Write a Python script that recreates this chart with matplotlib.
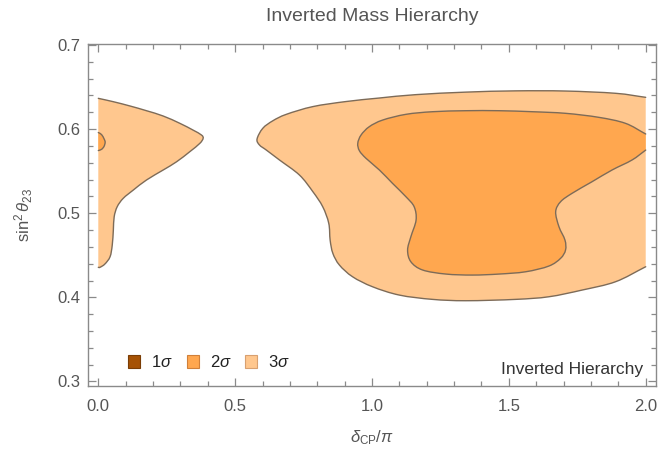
import matplotlib
matplotlib.use("Agg")
import matplotlib.pyplot as plt
from matplotlib.patches import Patch, PathPatch
from matplotlib.path import Path
import numpy as np

plt.rcParams["font.family"] = ["Liberation Sans", "DejaVu Sans"]
plt.rcParams["mathtext.fontset"] = "custom"
plt.rcParams["mathtext.rm"] = "Liberation Sans"
plt.rcParams["mathtext.it"] = "Liberation Sans:italic"

# ── contour outlines (delta_CP/pi, sin^2 theta_23) ───────────────────────────
# each outline starts just after its straight piece on the plot edge
left_3s_x = [0.0, 0.055, 0.116, 0.176, 0.237, 0.298, 0.346, 0.377, 0.383,
             0.371, 0.334, 0.286, 0.237, 0.176, 0.128, 0.091, 0.069, 0.058,
             0.055, 0.051, 0.043, 0.024, 0.006, 0.0]
left_3s_y = [0.6366, 0.6326, 0.6275, 0.6219, 0.6156, 0.6069, 0.5989, 0.5930,
             0.5891, 0.5831, 0.5731, 0.5612, 0.5514, 0.5395, 0.5276, 0.5177,
             0.5077, 0.4958, 0.4800, 0.4622, 0.4483, 0.4396, 0.4357, 0.4357]

left_2s_x = [0.0, 0.012, 0.021, 0.025, 0.021, 0.012, 0.0]
left_2s_y = [0.5960, 0.5935, 0.5885, 0.5845, 0.5795, 0.5760, 0.5745]

right_3s_x = [2.0, 1.890, 1.768, 1.646, 1.525, 1.343, 1.221, 1.100, 1.002,
              0.929, 0.881, 0.857, 0.847, 0.842, 0.820, 0.784, 0.735, 0.662,
              0.614, 0.589, 0.580, 0.601, 0.638, 0.687, 0.784, 0.905, 1.027,
              1.160, 1.343, 1.525, 1.707, 1.890, 2.0]
right_3s_y = [0.4364, 0.4186, 0.4087, 0.4007, 0.3976, 0.3960, 0.3976, 0.4027,
              0.4126, 0.4245, 0.4384, 0.4523, 0.4681, 0.4880, 0.5077, 0.5256,
              0.5454, 0.5633, 0.5751, 0.5811, 0.5882, 0.6010, 0.6100, 0.6176,
              0.6268, 0.6328, 0.6370, 0.6410, 0.6440, 0.6455, 0.6453, 0.6426,
              0.6378]

right_2s_x = [2.0, 1.950, 1.877, 1.804, 1.731, 1.689, 1.671, 1.683, 1.705,
              1.707, 1.689, 1.646, 1.561, 1.464, 1.367, 1.270, 1.185, 1.142,
              1.130, 1.142, 1.161, 1.154, 1.124, 1.075, 1.027, 0.978, 0.954,
              0.948, 0.960, 0.990, 1.039, 1.124, 1.221, 1.343, 1.464, 1.586,
              1.707, 1.829, 1.926, 2.0]
right_2s_y = [0.5751, 0.5633, 0.5514, 0.5375, 0.5237, 0.5137, 0.5018, 0.4840,
              0.4681, 0.4562, 0.4464, 0.4372, 0.4304, 0.4277, 0.4265, 0.4277,
              0.4325, 0.4423, 0.4562, 0.4721, 0.4919, 0.5077, 0.5196, 0.5355,
              0.5514, 0.5653, 0.5743, 0.5831, 0.5930, 0.6029, 0.6108, 0.6176,
              0.6207, 0.6219, 0.6219, 0.6207, 0.6188, 0.6140, 0.6069, 0.5942]

level_labels = ["$1\\sigma$", "$2\\sigma$", "$3\\sigma$"]
level_colors = ["#a65204", "#ffa74f", "#ffc78e"]
level_edges = ["#7a3d05", "#d0803a", "#d8a070"]

x_major = [0.0, 0.5, 1.0, 1.5, 2.0]
y_major = [0.3, 0.4, 0.5, 0.6, 0.7]


def smooth_curve(xs, ys):
    """Bezier path passing through the outline points (Catmull-Rom handles)."""
    p = np.column_stack([xs, ys])
    n = len(p)
    t = np.zeros_like(p)
    t[1:-1] = (p[2:] - p[:-2]) / 2
    t[0] = p[1] - p[0]
    t[-1] = p[-1] - p[-2]
    verts = [p[0]]
    codes = [Path.MOVETO]
    for i in range(n - 1):
        verts += [p[i] + t[i] / 3, p[i + 1] - t[i + 1] / 3, p[i + 1]]
        codes += [Path.CURVE4] * 3
    return verts, codes


# ── figure ────────────────────────────────────────────────────────────────────
fig = plt.figure(figsize=(6.6, 4.5), dpi=100)
ax = fig.add_axes([0.1338, 0.1422, 0.8597, 0.760])

edge = "#7d6b58"
shapes = [(left_3s_x, left_3s_y, level_colors[2]),
          (right_3s_x, right_3s_y, level_colors[2]),
          (right_2s_x, right_2s_y, level_colors[1]),
          (left_2s_x, left_2s_y, level_colors[1])]
for xs, ys, c in shapes:
    verts, codes = smooth_curve(xs, ys)
    # fill: close along the straight plot-range edge
    fill_path = Path(verts + [verts[0], verts[0]],
                     codes + [Path.LINETO, Path.CLOSEPOLY])
    ax.add_patch(PathPatch(fill_path, facecolor=c, edgecolor="none",
                           zorder=2))
    ax.add_patch(PathPatch(Path(verts, codes), facecolor="none",
                           edgecolor=edge, lw=1.0, zorder=3,
                           capstyle="round", joinstyle="round"))

ax.set_xlim(-0.0365, 2.0365)
ax.set_ylim(0.2946, 0.7012)

frame = "#8a8a8a"
for s in ax.spines.values():
    s.set_color(frame)
    s.set_linewidth(1.0)

ax.set_xticks(x_major)
ax.set_xticklabels([f"{v:.1f}" for v in x_major])
ax.set_xticks(np.arange(0, 2.001, 0.1), minor=True)
ax.set_yticks(y_major)
ax.set_yticklabels([f"{v:.1f}" for v in y_major])
ax.set_yticks(np.arange(0.3, 0.7001, 0.02), minor=True)
ax.tick_params(which="both", direction="in", top=True, right=True,
               color=frame, width=0.9, labelcolor="#555555", labelsize=12)
ax.tick_params(which="major", length=6)
ax.tick_params(which="minor", length=3.5)
ax.tick_params(axis="x", which="major", pad=9)
ax.tick_params(axis="y", which="major", pad=6)

fig.text(0.5636, 0.9640, "Inverted Mass Hierarchy", fontsize=14,
         color="#555555", ha="center", va="center")
ax.set_xlabel("$\\delta_{\\rm CP}/\\pi$", fontsize=12, color="#555555",
              labelpad=11)
ax.set_ylabel("$\\sin^2\\theta_{23}$", fontsize=12, color="#555555",
              labelpad=16)

handles = [Patch(facecolor=c, edgecolor=e, linewidth=0.8)
           for c, e in zip(level_colors, level_edges)]
ax.legend(handles, level_labels, loc="lower left",
          bbox_to_anchor=(0.056, 0.022), ncol=3, frameon=False, borderpad=0,
          handlelength=0.72, handleheight=0.78, handletextpad=0.66,
          columnspacing=0.8, fontsize=12, labelcolor="#222222")

ax.text(0.978, 0.047, "Inverted Hierarchy", transform=ax.transAxes,
        ha="right", va="center", fontsize=12.5, color="#333333")

fig.savefig("out.png", dpi=100)
